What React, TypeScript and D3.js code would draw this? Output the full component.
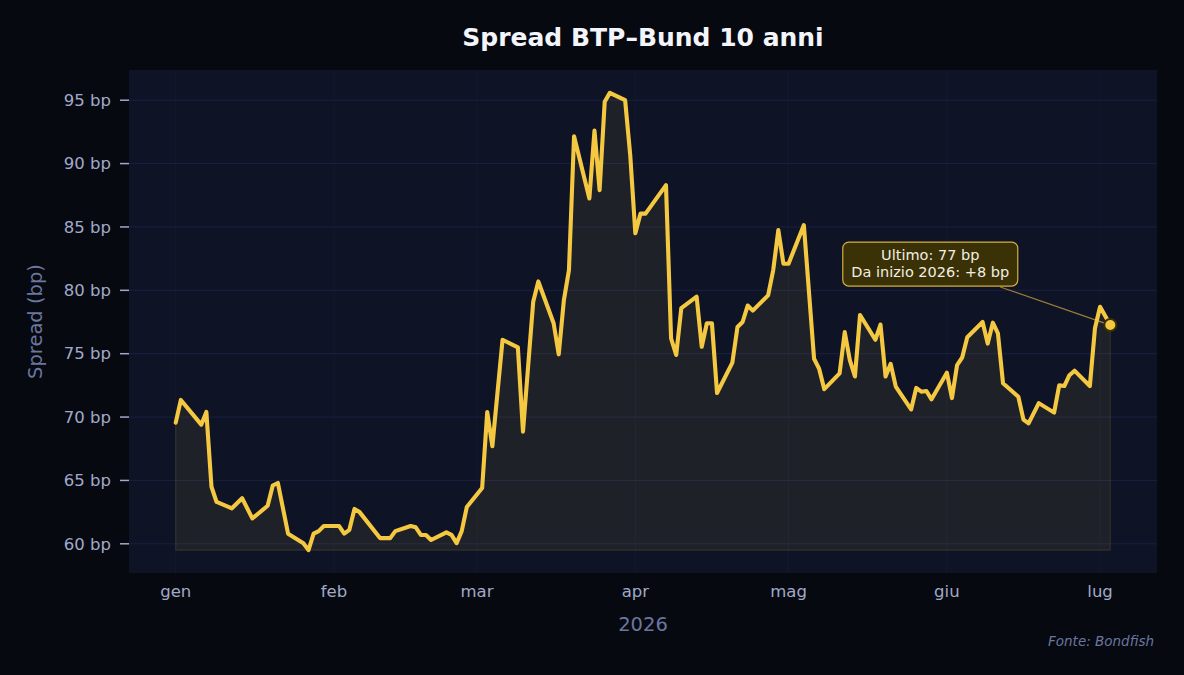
import React from "react";
import * as d3 from "d3";

// Daily closes of the BTP–Bund 10y spread (basis points)
const DATES: string[] = [
  "2026-01-01", "2026-01-02", "2026-01-06", "2026-01-07", "2026-01-08", "2026-01-09",
  "2026-01-12", "2026-01-14", "2026-01-16", "2026-01-19", "2026-01-20", "2026-01-21",
  "2026-01-23", "2026-01-26", "2026-01-27", "2026-01-28", "2026-01-29", "2026-01-30",
  "2026-02-02", "2026-02-03", "2026-02-04", "2026-02-05", "2026-02-06", "2026-02-10",
  "2026-02-12", "2026-02-13", "2026-02-16", "2026-02-17", "2026-02-18", "2026-02-19",
  "2026-02-20", "2026-02-23", "2026-02-24", "2026-02-25", "2026-02-26", "2026-02-27",
  "2026-03-02", "2026-03-03", "2026-03-04", "2026-03-06", "2026-03-09", "2026-03-10",
  "2026-03-12", "2026-03-13", "2026-03-16", "2026-03-17", "2026-03-18", "2026-03-19",
  "2026-03-20", "2026-03-23", "2026-03-24", "2026-03-25", "2026-03-26", "2026-03-27",
  "2026-03-30", "2026-03-31", "2026-04-01", "2026-04-02", "2026-04-03", "2026-04-07",
  "2026-04-08", "2026-04-09", "2026-04-10", "2026-04-13", "2026-04-14", "2026-04-15",
  "2026-04-16", "2026-04-17", "2026-04-20", "2026-04-21", "2026-04-22", "2026-04-23",
  "2026-04-24", "2026-04-27", "2026-04-28", "2026-04-29", "2026-04-30", "2026-05-01",
  "2026-05-04", "2026-05-06", "2026-05-07", "2026-05-08", "2026-05-11", "2026-05-12",
  "2026-05-13", "2026-05-14", "2026-05-15", "2026-05-18", "2026-05-19", "2026-05-20",
  "2026-05-21", "2026-05-22", "2026-05-25", "2026-05-26", "2026-05-27", "2026-05-28",
  "2026-05-29", "2026-06-01", "2026-06-02", "2026-06-03", "2026-06-04", "2026-06-05",
  "2026-06-08", "2026-06-09", "2026-06-10", "2026-06-11", "2026-06-12", "2026-06-15",
  "2026-06-16", "2026-06-17", "2026-06-19", "2026-06-22", "2026-06-23", "2026-06-24",
  "2026-06-25", "2026-06-26", "2026-06-29", "2026-06-30", "2026-07-01", "2026-07-03",
];

const SPREAD: number[] = [
  69.56, 71.35, 69.4, 70.4, 64.5, 63.3,
  62.8, 63.6, 62.0, 63.0, 64.6, 64.8,
  60.8, 60.05, 59.5, 60.8, 61.0, 61.4,
  61.4, 60.8, 61.1, 62.75, 62.5, 60.45,
  60.45, 61.0, 61.4, 61.3, 60.7, 60.7,
  60.3, 60.9, 60.7, 60.05, 61.0, 62.9,
  64.4, 70.4, 67.7, 76.1, 75.5, 68.85,
  79.1, 80.7, 77.4, 74.95, 79.2, 81.6,
  92.16, 87.25, 92.6, 87.9, 94.87, 95.58,
  95.0, 90.66, 84.5, 86.05, 86.05, 88.3,
  76.2, 74.9, 78.6, 79.5, 75.55, 77.4,
  77.4, 71.9, 74.3, 77.1, 77.5, 78.8,
  78.4, 79.6, 81.6, 84.75, 82.1, 82.1,
  85.15, 74.6, 73.8, 72.2, 73.45, 76.7,
  74.5, 73.2, 78.05, 76.1, 77.3, 73.2,
  74.2, 72.4, 70.6, 72.3, 72.0, 72.06,
  71.4, 73.5, 71.5, 74.1, 74.7, 76.3,
  77.5, 75.8, 77.45, 76.6, 72.67, 71.6,
  69.8, 69.5, 71.1, 70.35, 72.5, 72.45,
  73.3, 73.66, 72.45, 77.0, 78.7, 77.26,
];

const Y_TICKS: number[] = [60, 65, 70, 75, 80, 85, 90, 95];
const MONTH_LABELS: string[] = ["gen", "feb", "mar", "apr", "mag", "giu", "lug"];

const TITLE = "Spread BTP–Bund 10 anni";
const X_LABEL = "2026";
const Y_LABEL = "Spread (bp)";
const SOURCE = "Fonte: Bondfish";

const W = 1184;
const H = 675;
const PLOT = { left: 129, right: 1157, top: 70, bottom: 573 };

const C = {
  figure: "#060910",
  axes: "#0e1326",
  grid: "#1a2040",
  tick: "#a2aac8",
  label: "#6b779f",
  line: "#f5c842",
  boxFill: "#3b3106",
  boxText: "#f2efe2",
};

const FONT = "'DejaVu Sans', Verdana, sans-serif";

type Pt = { date: Date; value: number };

export default function App() {
  const parse = d3.timeParse("%Y-%m-%d");
  const data: Pt[] = DATES.map((d, i) => ({ date: parse(d) as Date, value: SPREAD[i] }));

  const [d0, d1] = d3.extent(data, (d) => d.date) as [Date, Date];
  const span = +d1 - +d0;
  const x = d3
    .scaleTime()
    .domain([new Date(+d0 - span * 0.05), new Date(+d1 + span * 0.05)])
    .range([PLOT.left, PLOT.right]);

  const [vMin, vMax] = d3.extent(data, (d) => d.value) as [number, number];
  const vPad = (vMax - vMin) * 0.05;
  const y = d3
    .scaleLinear()
    .domain([vMin - vPad, vMax + vPad])
    .range([PLOT.bottom, PLOT.top]);

  const line = d3
    .line<Pt>()
    .x((d) => x(d.date))
    .y((d) => y(d.value));

  const area = d3
    .area<Pt>()
    .x((d) => x(d.date))
    .y0(y(vMin))
    .y1((d) => y(d.value));

  const monthTicks = d3.timeMonth.range(d3.timeMonth.floor(d0), d3.timeDay.offset(d1, 1));

  const first = data[0];
  const last = data[data.length - 1];
  const lx = x(last.date);
  const ly = y(last.value);
  const delta = Math.round(last.value - first.value);
  const line1 = `Ultimo: ${Math.round(last.value)} bp`;
  const line2 = `Da inizio 2026: ${delta >= 0 ? "+" : ""}${delta} bp`;

  // Callout box sits up and to the left of the last observation
  const boxW = 175;
  const boxH = 44;
  const boxCx = lx - 180;
  const boxTop = ly - 83;
  const boxLeft = boxCx - boxW / 2;
  const anchorX = boxCx + 70;
  const anchorY = boxTop + boxH + 1;
  const ang = Math.atan2(ly - anchorY, lx - anchorX);
  const tipX = lx - Math.cos(ang) * 6;
  const tipY = ly - Math.sin(ang) * 6;

  return (
    <svg
      width={W}
      height={H}
      viewBox={`0 0 ${W} ${H}`}
      style={{ position: "fixed", left: 0, top: 0, display: "block" }}
      fontFamily={FONT}
    >
      <rect x={0} y={0} width={W} height={H} fill={C.figure} />
      <rect
        x={PLOT.left}
        y={PLOT.top}
        width={PLOT.right - PLOT.left}
        height={PLOT.bottom - PLOT.top}
        fill={C.axes}
      />

      {/* grid */}
      <g stroke={C.grid} strokeWidth={1}>
        {Y_TICKS.map((t) => (
          <line key={`gy${t}`} x1={PLOT.left} x2={PLOT.right} y1={y(t)} y2={y(t)} />
        ))}
        {monthTicks.map((m, i) => (
          <line key={`gx${i}`} x1={x(m)} x2={x(m)} y1={PLOT.top} y2={PLOT.bottom} opacity={0.45} />
        ))}
      </g>

      {/* series */}
      <path
        d={area(data) ?? ""}
        fill={C.line}
        fillOpacity={0.08}
        stroke={C.line}
        strokeOpacity={0.12}
        strokeWidth={1.2}
      />
      <path
        d={line(data) ?? ""}
        fill="none"
        stroke={C.line}
        strokeWidth={4.1}
        strokeLinejoin="round"
        strokeLinecap="round"
      />

      {/* y axis */}
      <g>
        {Y_TICKS.map((t) => (
          <g key={`yt${t}`}>
            <line x1={PLOT.left - 9} x2={PLOT.left} y1={y(t)} y2={y(t)} stroke={C.tick} strokeWidth={1.5} />
            <text
              x={PLOT.left - 18}
              y={y(t)}
              dy="0.35em"
              textAnchor="end"
              fontSize={16.5}
              fill={C.tick}
            >
              {`${t} bp`}
            </text>
          </g>
        ))}
      </g>

      {/* x axis */}
      <g>
        {monthTicks.map((m, i) => (
          <text
            key={`xt${i}`}
            x={x(m)}
            y={PLOT.bottom + 24}
            textAnchor="middle"
            fontSize={16.5}
            fill={C.tick}
          >
            {MONTH_LABELS[m.getMonth()]}
          </text>
        ))}
      </g>

      <text
        x={(PLOT.left + PLOT.right) / 2}
        y={PLOT.bottom + 58}
        textAnchor="middle"
        fontSize={19.5}
        fill={C.label}
      >
        {X_LABEL}
      </text>
      <text
        transform={`translate(42, ${(PLOT.top + PLOT.bottom) / 2}) rotate(-90)`}
        textAnchor="middle"
        fontSize={19.5}
        fill={C.label}
      >
        {Y_LABEL}
      </text>

      <text
        x={(PLOT.left + PLOT.right) / 2}
        y={46}
        textAnchor="middle"
        fontSize={25}
        fontWeight="bold"
        fill="#f4f5fb"
      >
        {TITLE}
      </text>

      <text x={1154} y={646} textAnchor="end" fontSize={13.5} fontStyle="italic" fill={C.label}>
        {SOURCE}
      </text>

      {/* callout for the latest value */}
      <line x1={anchorX} y1={anchorY} x2={tipX} y2={tipY} stroke={C.line} strokeOpacity={0.6} strokeWidth={1.2} />
      <rect
        x={boxLeft}
        y={boxTop}
        width={boxW}
        height={boxH}
        rx={6}
        fill={C.boxFill}
        stroke={C.line}
        strokeOpacity={0.85}
        strokeWidth={1.2}
      />
      <text x={boxCx} y={boxTop + 18} textAnchor="middle" fontSize={14.5} fill={C.boxText}>
        {line1}
      </text>
      <text x={boxCx} y={boxTop + 35} textAnchor="middle" fontSize={14.5} fill={C.boxText}>
        {line2}
      </text>
      <circle cx={lx} cy={ly} r={6} fill={C.line} stroke="#3a3100" strokeWidth={2} />
    </svg>
  );
}
